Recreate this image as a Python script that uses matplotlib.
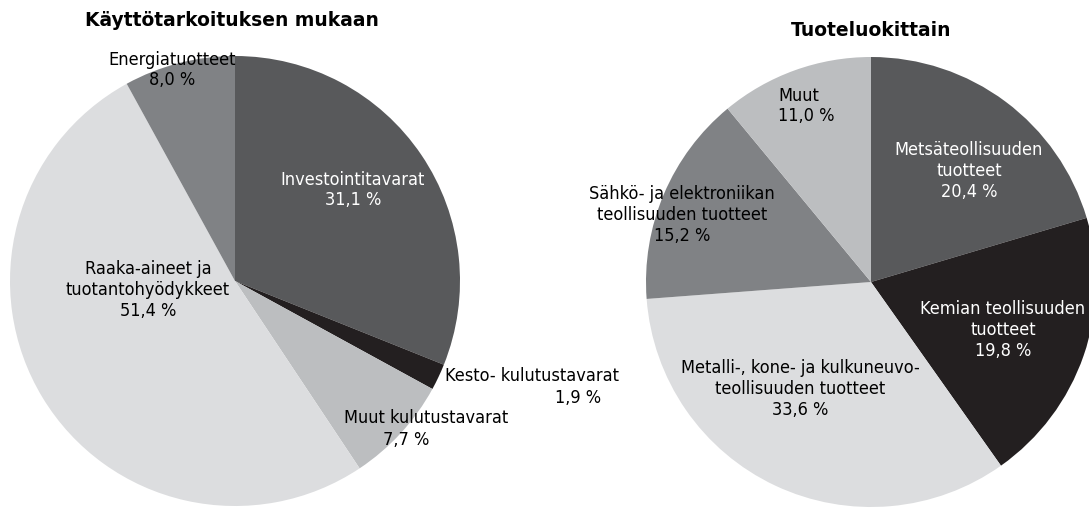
import matplotlib
matplotlib.use("Agg")
import matplotlib.pyplot as plt

# ---- data ----
left_title = "Käyttötarkoituksen mukaan"
left_labels = ["Investointitavarat", "Kesto- kulutustavarat", "Muut kulutustavarat",
               "Raaka-aineet ja\ntuotantohyödykkeet", "Energiatuotteet"]
left_values = [31.1, 1.9, 7.7, 51.4, 8.0]
left_colors = ["#58595b", "#231f20", "#bcbec0", "#dcdddf", "#808285"]

right_title = "Tuoteluokittain"
right_labels = ["Metsäteollisuuden\ntuotteet", "Kemian teollisuuden\ntuotteet",
                "Metalli-, kone- ja kulkuneuvo-\nteollisuuden tuotteet",
                "Sähkö- ja elektroniikan\nteollisuuden tuotteet", "Muut"]
right_values = [20.4, 19.8, 33.6, 15.2, 11.0]
right_colors = ["#58595b", "#231f20", "#dcdddf", "#808285", "#bcbec0"]

def pct(v):
    return f"{v:.1f}".replace(".", ",") + " %"

plt.rcParams['font.family'] = ['DejaVu Sans']

W, H = 1089, 508
fig = plt.figure(figsize=(W / 100, H / 100), dpi=100)
ax = fig.add_axes([0, 0, 1, 1])

def Y(py):
    return H - py

ax.pie(left_values, colors=left_colors, startangle=90, counterclock=False,
       center=(235, Y(281)), radius=225, frame=True,
       wedgeprops=dict(linewidth=0))
ax.pie(right_values, colors=right_colors, startangle=90, counterclock=False,
       center=(871, Y(282)), radius=225, frame=True,
       wedgeprops=dict(linewidth=0))

ax.set_xlim(0, W)
ax.set_ylim(0, H)
ax.set_aspect('equal')
ax.axis('off')

fs = 13
tfs = 13.5
ls = 1.2

# titles
ax.text(232, Y(20), left_title, ha='center', va='center', fontsize=tfs, fontweight='bold')
ax.text(871, Y(31), right_title, ha='center', va='center', fontsize=tfs, fontweight='bold')

def lab(x, py, s, color='black', ha='center'):
    ax.text(x, Y(py), s, ha=ha, va='center', fontsize=fs, color=color,
            linespacing=ls, fontstretch='condensed')

# left pie labels
lab(353, 190, left_labels[0] + "\n" + pct(left_values[0]), color='white')
lab(532, 376, left_labels[1])
lab(578, 398, pct(left_values[1]))
lab(426, 418, left_labels[2])
lab(406, 440, pct(left_values[2]))
lab(148, 290, left_labels[3] + "\n" + pct(left_values[3]))
lab(172, 70, left_labels[4] + "\n" + pct(left_values[4]))

# right pie labels
lab(969, 171, right_labels[0] + "\n" + pct(right_values[0]), color='white')
lab(1003, 330, right_labels[1] + "\n" + pct(right_values[1]), color='white')
lab(800, 389, right_labels[2] + "\n" + pct(right_values[2]))
lab(682, 215, right_labels[3] + "\n" + pct(right_values[3]))
lab(778, 106, right_labels[4] + "\n" + pct(right_values[4]), ha='left')

fig.savefig("out.png", dpi=100)
